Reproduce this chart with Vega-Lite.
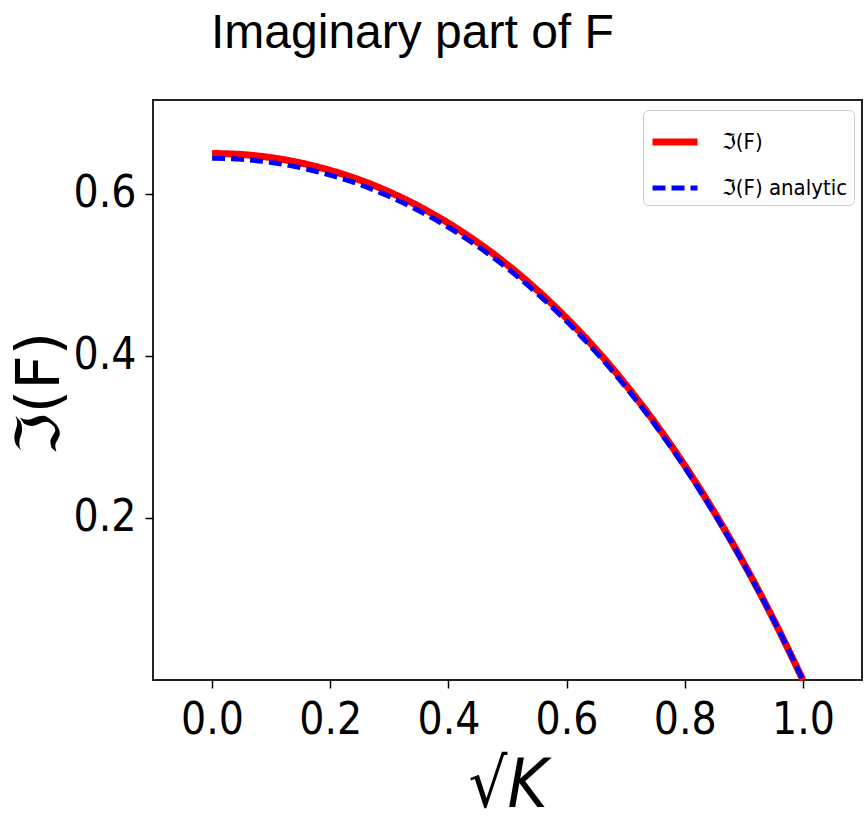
{
  "$schema": "https://vega.github.io/schema/vega-lite/v6.json",
  "autosize": {"type": "none"},
  "width": 709,
  "height": 580,
  "padding": {"left": 153, "top": 100, "right": 3, "bottom": 144},
  "background": "white",
  "title": {
    "text": "Imaginary part of F",
    "anchor": "start",
    "frame": "group",
    "dx": 58,
    "offset": 4,
    "baseline": "alphabetic",
    "font": "Liberation Sans",
    "fontSize": 48,
    "fontWeight": "normal",
    "color": "black"
  },
  "config": {
    "view": {"stroke": "#222222", "strokeWidth": 2},
    "axis": {
      "grid": false,
      "domain": false,
      "tickColor": "black",
      "tickWidth": 1.5,
      "tickSize": 8,
      "labelFont": "DejaVu Sans Condensed, DejaVu Sans, sans-serif",
      "labelFontSize": 44,
      "labelColor": "black",
      "titleColor": "black",
      "titleFontWeight": "normal"
    }
  },
  "data": {
    "values": [
      {"x": 0.00, "y": 0.6500, "series": "ℑ(F)"},
      {"x": 0.05, "y": 0.6487, "series": "ℑ(F)"},
      {"x": 0.10, "y": 0.6448, "series": "ℑ(F)"},
      {"x": 0.15, "y": 0.6383, "series": "ℑ(F)"},
      {"x": 0.20, "y": 0.6291, "series": "ℑ(F)"},
      {"x": 0.25, "y": 0.6172, "series": "ℑ(F)"},
      {"x": 0.30, "y": 0.6024, "series": "ℑ(F)"},
      {"x": 0.35, "y": 0.5847, "series": "ℑ(F)"},
      {"x": 0.40, "y": 0.5639, "series": "ℑ(F)"},
      {"x": 0.45, "y": 0.5399, "series": "ℑ(F)"},
      {"x": 0.50, "y": 0.5125, "series": "ℑ(F)"},
      {"x": 0.55, "y": 0.4815, "series": "ℑ(F)"},
      {"x": 0.60, "y": 0.4467, "series": "ℑ(F)"},
      {"x": 0.65, "y": 0.4079, "series": "ℑ(F)"},
      {"x": 0.70, "y": 0.3648, "series": "ℑ(F)"},
      {"x": 0.75, "y": 0.3172, "series": "ℑ(F)"},
      {"x": 0.80, "y": 0.2647, "series": "ℑ(F)"},
      {"x": 0.85, "y": 0.2071, "series": "ℑ(F)"},
      {"x": 0.90, "y": 0.1440, "series": "ℑ(F)"},
      {"x": 0.95, "y": 0.0751, "series": "ℑ(F)"},
      {"x": 1.00, "y": 0.0000, "series": "ℑ(F)"},
      {"x": 0.00, "y": 0.6440, "series": "ℑ(F) analytic"},
      {"x": 0.05, "y": 0.6427, "series": "ℑ(F) analytic"},
      {"x": 0.10, "y": 0.6389, "series": "ℑ(F) analytic"},
      {"x": 0.15, "y": 0.6324, "series": "ℑ(F) analytic"},
      {"x": 0.20, "y": 0.6233, "series": "ℑ(F) analytic"},
      {"x": 0.25, "y": 0.6116, "series": "ℑ(F) analytic"},
      {"x": 0.30, "y": 0.5969, "series": "ℑ(F) analytic"},
      {"x": 0.35, "y": 0.5794, "series": "ℑ(F) analytic"},
      {"x": 0.40, "y": 0.5589, "series": "ℑ(F) analytic"},
      {"x": 0.45, "y": 0.5351, "series": "ℑ(F) analytic"},
      {"x": 0.50, "y": 0.5080, "series": "ℑ(F) analytic"},
      {"x": 0.55, "y": 0.4773, "series": "ℑ(F) analytic"},
      {"x": 0.60, "y": 0.4429, "series": "ℑ(F) analytic"},
      {"x": 0.65, "y": 0.4044, "series": "ℑ(F) analytic"},
      {"x": 0.70, "y": 0.3617, "series": "ℑ(F) analytic"},
      {"x": 0.75, "y": 0.3146, "series": "ℑ(F) analytic"},
      {"x": 0.80, "y": 0.2625, "series": "ℑ(F) analytic"},
      {"x": 0.85, "y": 0.2054, "series": "ℑ(F) analytic"},
      {"x": 0.90, "y": 0.1429, "series": "ℑ(F) analytic"},
      {"x": 0.95, "y": 0.0745, "series": "ℑ(F) analytic"},
      {"x": 1.00, "y": 0.0000, "series": "ℑ(F) analytic"}
    ]
  },
  "mark": {"type": "line", "interpolate": "monotone", "strokeCap": "butt"},
  "encoding": {
    "x": {
      "field": "x",
      "type": "quantitative",
      "scale": {"domain": [-0.1, 1.1], "nice": false, "zero": false},
      "axis": {
        "values": [0, 0.2, 0.4, 0.6, 0.8, 1.0],
        "format": ".1f",
        "labelPadding": 10,
        "title": "√K",
        "titleFont": "DejaVu Sans Condensed, DejaVu Sans, sans-serif",
        "titleFontSize": 68,
        "titleFontStyle": "italic",
        "titlePadding": 10
      }
    },
    "y": {
      "field": "y",
      "type": "quantitative",
      "scale": {"domain": [0, 0.716], "nice": false, "zero": false},
      "axis": {
        "values": [0.2, 0.4, 0.6],
        "format": ".1f",
        "labelPadding": 9,
        "title": "ℑ(F)",
        "titleFont": "DejaVu Sans",
        "titleFontSize": 60,
        "titleAngle": -90,
        "titleX": -82,
        "titleY": 293,
        "titleAlign": "center",
        "titleBaseline": "bottom"
      }
    },
    "color": {
      "field": "series",
      "type": "nominal",
      "sort": null,
      "scale": {"domain": ["ℑ(F)", "ℑ(F) analytic"], "range": ["#ff0000", "#0000ff"]},
      "legend": {
        "title": null,
        "orient": "none",
        "legendX": 490,
        "legendY": 10,
        "symbolType": "stroke",
        "symbolSize": 2025,
        "symbolStrokeWidth": 6,
        "labelFont": "DejaVu Sans Condensed, DejaVu Sans, sans-serif",
        "labelFontSize": 22,
        "labelColor": "black",
        "labelOffset": 21,
        "padding": 6,
        "rowPadding": 7,
        "strokeColor": "#cccccc",
        "fillColor": "white",
        "cornerRadius": 5
      }
    },
    "strokeDash": {
      "field": "series",
      "type": "nominal",
      "sort": null,
      "scale": {"domain": ["ℑ(F)", "ℑ(F) analytic"], "range": [[1, 0], [13, 6]]},
      "legend": {
        "title": null,
        "orient": "none",
        "legendX": 490,
        "legendY": 10,
        "symbolType": "stroke",
        "symbolSize": 2025,
        "symbolStrokeWidth": 6,
        "labelFont": "DejaVu Sans Condensed, DejaVu Sans, sans-serif",
        "labelFontSize": 22,
        "labelColor": "black",
        "labelOffset": 21,
        "padding": 6,
        "rowPadding": 7,
        "strokeColor": "#cccccc",
        "fillColor": "white",
        "cornerRadius": 5
      }
    },
    "strokeWidth": {
      "field": "series",
      "type": "nominal",
      "scale": {"domain": ["ℑ(F)", "ℑ(F) analytic"], "range": [7, 5]},
      "legend": null
    }
  }
}
